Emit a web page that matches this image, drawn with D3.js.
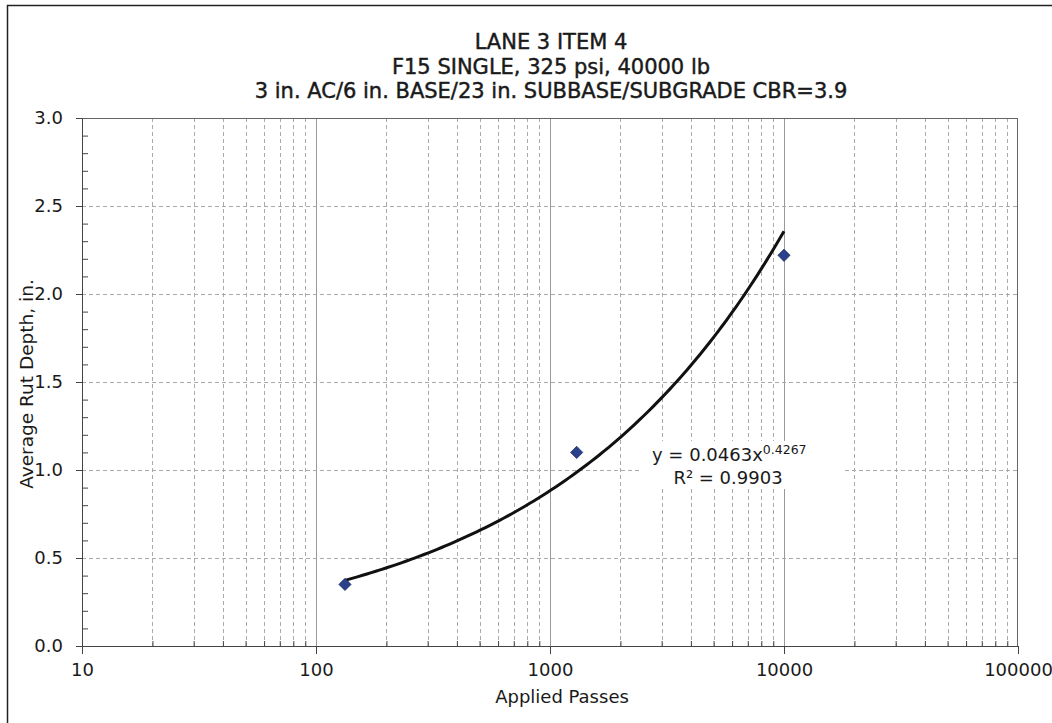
<!DOCTYPE html>
<html><head><meta charset="utf-8">
<script src="https://cdn.jsdelivr.net/npm/d3@7"></script>
<style>body{margin:0;background:#fff;} text{font-family:"DejaVu Sans",sans-serif;fill:#1a1a1a;}</style>
</head><body>
<svg id="c" width="1052" height="723"></svg>
<script>
const titleLines = ["LANE 3 ITEM 4", "F15 SINGLE, 325 psi, 40000 lb", "3 in. AC/6 in. BASE/23 in. SUBBASE/SUBGRADE CBR=3.9"];
const passes = [133, 1300, 10000];
const rutDepth = [0.35, 1.10, 2.22];
const xTickValues = [10, 100, 1000, 10000, 100000];
const yTickValues = [0, 0.5, 1.0, 1.5, 2.0, 2.5, 3.0];
const fitCoef = 0.0463, fitExp = 0.4267;
const fitRange = [133, 10000];
const xTitle = "Applied Passes", yTitle = "Average Rut Depth, in.";
const eqMain = "y = 0.0463x", eqSup = "0.4267", r2Text = "R² = 0.9903";

const FONT = "DejaVu Sans, sans-serif";
const svg = d3.select("#c");
const L = 82, T = 118, R = 1018, B = 646;
const x = d3.scaleLog().domain([10, 100000]).range([L, R]);
const y = d3.scaleLinear().domain([0, 3]).range([B, T]);

// outer frame
svg.append("path").attr("d", `M7.5,723 V5.5 H1052`).attr("fill","none").attr("stroke","#222").attr("stroke-width",1.5);

const minorX = [];
for (let d = 10; d < 100000; d *= 10) for (let k = 2; k <= 9; k++) minorX.push(d*k);
const g = svg.append("g");
g.selectAll(".vm").data(minorX).join("line")
  .attr("x1", d=>Math.round(x(d))+0.5).attr("x2", d=>Math.round(x(d))+0.5).attr("y1", T).attr("y2", B)
  .attr("stroke","#aaa").attr("stroke-dasharray","4,3").attr("stroke-width",1);
g.selectAll(".vM").data(xTickValues.slice(1,-1)).join("line")
  .attr("x1", d=>Math.round(x(d))+0.5).attr("x2", d=>Math.round(x(d))+0.5).attr("y1", T).attr("y2", B)
  .attr("stroke","#999").attr("stroke-width",1);
g.selectAll(".h").data(yTickValues.slice(1,-1)).join("line")
  .attr("y1", d=>Math.round(y(d))+0.5).attr("y2", d=>Math.round(y(d))+0.5).attr("x1", L).attr("x2", R)
  .attr("stroke","#aaa").attr("stroke-dasharray","4,3").attr("stroke-width",1);

// plot border
svg.append("rect").attr("x",L+0.5).attr("y",T+0.5).attr("width",R-L-1).attr("height",B-T).attr("fill","none").attr("stroke","#666").attr("stroke-width",1);

// axes
const xAxis = d3.axisBottom(x).tickValues(xTickValues).tickFormat(d3.format("d")).tickSize(8).tickSizeOuter(0).tickPadding(9);
const gx = svg.append("g").attr("transform",`translate(0,${B})`).call(xAxis);
gx.attr("font-family", FONT).attr("font-size", 18);
gx.select(".domain").attr("stroke","#444");
gx.selectAll(".tick line").attr("stroke","#444");
gx.selectAll("text").attr("fill","#1a1a1a");
const gxm = svg.append("g").attr("transform",`translate(0,${B})`).call(d3.axisBottom(x).tickValues(minorX).tickFormat("").tickSize(-5).tickSizeOuter(0));
gxm.select(".domain").remove(); gxm.selectAll(".tick line").attr("stroke","#444");

const yAxis = d3.axisLeft(y).tickValues(yTickValues).tickFormat(d3.format(".1f")).tickSize(6).tickSizeOuter(0).tickPadding(13);
const gy = svg.append("g").attr("transform",`translate(${L},0)`).call(yAxis);
gy.attr("font-family", FONT).attr("font-size", 18);
gy.select(".domain").attr("stroke","#444");
gy.selectAll(".tick line").attr("stroke","#444");
gy.selectAll("text").attr("fill","#1a1a1a");
const minorY = d3.range(1,30).filter(i=>i%5!==0).map(i=>i/10);
const gym = svg.append("g").attr("transform",`translate(${L},0)`).call(d3.axisLeft(y).tickValues(minorY).tickFormat("").tickSize(-6).tickSizeOuter(0));
gym.select(".domain").remove(); gym.selectAll(".tick line").attr("stroke","#444");

// titles
svg.append("g").selectAll("text").data(titleLines).join("text")
  .attr("x", 551).attr("y",(d,i)=>49+i*24.5).attr("text-anchor","middle").attr("font-size",21)
  .attr("stroke","#1a1a1a").attr("stroke-width",0.45).text(d=>d);
svg.append("text").attr("x", 562).attr("y", 703).attr("text-anchor","middle").attr("font-size",18).text(xTitle);
svg.append("text").attr("transform","translate(33,384) rotate(-90)").attr("text-anchor","middle").attr("font-size",18.5).text(yTitle);

// trendline
const fitPts = d3.range(0, 101).map(i => {
  const lx = Math.log10(fitRange[0]) + (Math.log10(fitRange[1]) - Math.log10(fitRange[0])) * i / 100;
  const xv = Math.pow(10, lx);
  return [xv, fitCoef * Math.pow(xv, fitExp)];
});
svg.append("path").datum(fitPts).attr("d", d3.line().x(d=>x(d[0])).y(d=>y(d[1])))
  .attr("fill","none").attr("stroke","#111").attr("stroke-width",3);

// points
const sym = d3.symbol().type(d3.symbolDiamond2).size(95);
svg.append("g").selectAll("path").data(passes.map((p,i)=>[p, rutDepth[i]])).join("path")
  .attr("transform", d=>`translate(${x(d[0])},${y(d[1])})`)
  .attr("d", sym).attr("fill","#2b3f8a").attr("stroke","#1d2d6b").attr("stroke-width",0.8);

// equation label
const eq = svg.append("g");
eq.append("rect").attr("x",640).attr("y",441).attr("width",205).attr("height",48).attr("fill","#fff");
const t1 = eq.append("text").attr("x",652).attr("y",461).attr("font-size",18);
t1.append("tspan").text(eqMain);
t1.append("tspan").attr("dy",-7).attr("font-size",12.5).text(eqSup);
eq.append("text").attr("x",728).attr("y",484).attr("text-anchor","middle").attr("font-size",18).text(r2Text);
</script>
</body></html>
